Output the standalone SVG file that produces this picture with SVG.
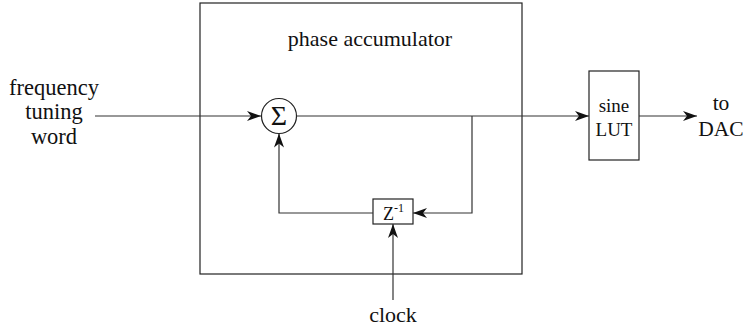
<svg xmlns="http://www.w3.org/2000/svg" width="743" height="331" viewBox="0 0 743 331">
<style>
  .box { fill: #fff; stroke: #222; stroke-width: 1.2; }
  .ln { fill: none; stroke: #333; stroke-width: 1.2; }
</style>
<defs>
  <marker id="arr" viewBox="0 0 14 10" refX="14" refY="5" markerWidth="14" markerHeight="10" markerUnits="userSpaceOnUse" orient="auto">
    <path d="M0,0 L14,5 L0,10 L4,5 Z" fill="#111"/>
  </marker>
</defs>
<rect width="743" height="331" fill="#fff"/>
<g font-family="'Liberation Serif', 'Times New Roman', serif" fill="#111">
<g id="phase-accumulator">
  <rect class="box" x="200" y="3" width="322" height="271"/>
  <text font-family="'Liberation Serif', serif" font-size="22" x="370" y="46" text-anchor="middle">phase accumulator</text>
</g>
<g id="sum">
  <circle class="box" cx="279" cy="116" r="17.5"/>
  <text font-family="'Liberation Serif', serif" x="279" y="124.5" font-size="28" text-anchor="middle">Σ</text>
</g>
<g id="delay">
  <rect class="box" x="373" y="199" width="40" height="25"/>
  <text font-family="'Liberation Serif', serif" x="383" y="220" font-size="18">Z<tspan font-size="12" dy="-8">-1</tspan></text>
</g>
<g id="sine-lut">
  <rect class="box" x="589" y="71" width="50" height="89"/>
  <text font-family="'Liberation Serif', serif" x="614" y="112" font-size="19" text-anchor="middle">sine</text>
  <text font-family="'Liberation Serif', serif" x="614" y="136" font-size="19" text-anchor="middle">LUT</text>
</g>
<g id="input-label">
  <text font-family="'Liberation Serif', serif" font-size="22.5" x="54" y="95" text-anchor="middle">frequency</text>
  <text font-family="'Liberation Serif', serif" font-size="22.5" x="54" y="119" text-anchor="middle">tuning</text>
  <text font-family="'Liberation Serif', serif" font-size="22.5" x="54" y="144" text-anchor="middle">word</text>
</g>
<g id="output-label">
  <text font-family="'Liberation Serif', serif" font-size="21.5" x="721" y="110" text-anchor="middle">to</text>
  <text font-family="'Liberation Serif', serif" font-size="21.5" x="721" y="136" text-anchor="middle">DAC</text>
</g>
<g id="clock-label">
  <text font-family="'Liberation Serif', serif" font-size="22" x="393" y="322" text-anchor="middle">clock</text>
</g>
</g>
<g id="connectors">
  <path class="ln" d="M95,116 L261,116" marker-end="url(#arr)"/>
  <path class="ln" d="M296.5,116 L589,116" marker-end="url(#arr)"/>
  <path class="ln" d="M472,116 L472,213 L413,213" marker-end="url(#arr)"/>
  <path class="ln" d="M373,213 L279,213 L279,133.5" marker-end="url(#arr)"/>
  <path class="ln" d="M393,300 L393,224" marker-end="url(#arr)"/>
  <path class="ln" d="M639,116 L697,116" marker-end="url(#arr)"/>
</g>
</svg>
